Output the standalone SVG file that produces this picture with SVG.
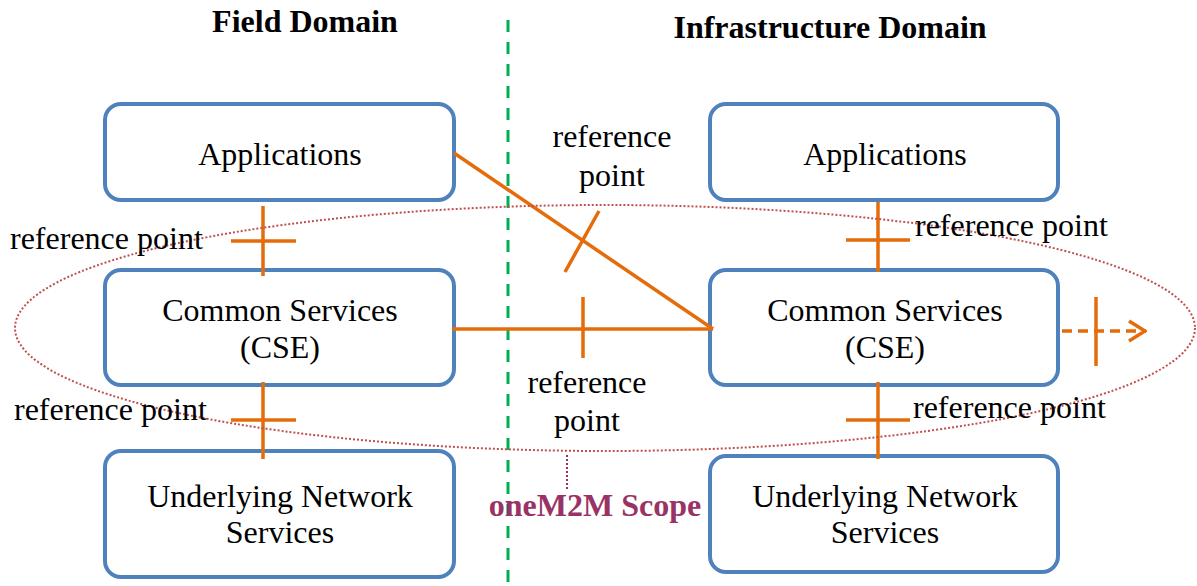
<svg xmlns="http://www.w3.org/2000/svg" width="1197" height="586" viewBox="0 0 1197 586">
<defs>
<style>
.box{fill:#fff;stroke:#4f81bd;stroke-width:4}
.t{font-family:"Liberation Serif","Times New Roman",serif;font-size:32px;fill:#000;text-anchor:middle}
.lbl{font-family:"Liberation Serif","Times New Roman",serif;font-size:32px;fill:#000}
.title{font-family:"Liberation Serif","Times New Roman",serif;font-size:32px;font-weight:bold;fill:#000;text-anchor:middle}
.o{stroke:#e46c0a;stroke-width:3.5;fill:none}
</style>
<marker id="arr" viewBox="0 0 20 24" refX="19" refY="12" markerWidth="20" markerHeight="24" markerUnits="userSpaceOnUse" orient="auto">
<path d="M2,2 L18,12 L2,22" fill="none" stroke="#e46c0a" stroke-width="3.5"/>
</marker>
</defs>
<rect width="1197" height="586" fill="#fff"/>
<text class="title" x="305" y="32">Field Domain</text>
<text class="title" x="830" y="38">Infrastructure Domain</text>
<line x1="508" y1="20" x2="508" y2="586" stroke="#00b050" stroke-width="3" stroke-dasharray="12,10"/>
<g id="field-apps"><rect class="box" x="105" y="104" width="349" height="96" rx="16"/><text class="t" x="280" y="165">Applications</text></g>
<g id="field-cse"><rect class="box" x="105" y="270" width="349" height="115" rx="16"/><text class="t" x="280" y="321">Common Services</text><text class="t" x="280" y="358">(CSE)</text></g>
<g id="field-net"><rect class="box" x="105" y="451" width="349" height="126" rx="16"/><text class="t" x="280" y="507">Underlying Network</text><text class="t" x="280" y="543">Services</text></g>
<g id="infra-apps"><rect class="box" x="710" y="104" width="348" height="96" rx="16"/><text class="t" x="885" y="165">Applications</text></g>
<g id="infra-cse"><rect class="box" x="710" y="270" width="348" height="115" rx="16"/><text class="t" x="885" y="321">Common Services</text><text class="t" x="885" y="358">(CSE)</text></g>
<g id="infra-net"><rect class="box" x="710" y="456" width="348" height="116" rx="16"/><text class="t" x="885" y="507">Underlying Network</text><text class="t" x="885" y="543">Services</text></g>
<g id="connectors">
<line class="o" x1="263" y1="206" x2="263" y2="276"/><line class="o" x1="231" y1="241" x2="296" y2="241"/>
<line class="o" x1="263" y1="382" x2="263" y2="459"/><line class="o" x1="231" y1="420" x2="296" y2="420"/>
<line class="o" x1="878" y1="202" x2="878" y2="272"/><line class="o" x1="846" y1="240" x2="910" y2="240"/>
<line class="o" x1="878" y1="382" x2="878" y2="459"/><line class="o" x1="846" y1="420" x2="910" y2="420"/>
<line class="o" x1="454" y1="153" x2="713" y2="329"/><line class="o" x1="599" y1="211" x2="565" y2="272"/>
<line class="o" x1="452" y1="329" x2="713" y2="329"/><line class="o" x1="583" y1="297" x2="583" y2="358"/>
<line class="o" x1="1062" y1="331" x2="1146" y2="331" stroke-dasharray="10,6" marker-end="url(#arr)"/><line class="o" x1="1096" y1="297" x2="1096" y2="366"/>
</g>
<g id="scope">
<ellipse cx="605" cy="328" rx="590" ry="123" fill="none" stroke="#c0504d" stroke-width="2" stroke-dasharray="2,2"/>
<line x1="567" y1="455" x2="567" y2="490" stroke="#993366" stroke-width="2" stroke-dasharray="2,2"/>
<text x="595" y="516" font-family="'Liberation Serif','Times New Roman',serif" font-size="32" font-weight="bold" fill="#993366" text-anchor="middle">oneM2M Scope</text>
</g>
<text class="lbl" x="10" y="249">reference point</text>
<text class="lbl" x="14" y="420">reference point</text>
<text class="lbl" x="915" y="236">reference point</text>
<text class="lbl" x="913" y="418">reference point</text>
<text class="lbl" x="612" y="147" text-anchor="middle">reference</text>
<text class="lbl" x="612" y="186" text-anchor="middle">point</text>
<text class="lbl" x="587" y="393" text-anchor="middle">reference</text>
<text class="lbl" x="587" y="431" text-anchor="middle">point</text>
</svg>
